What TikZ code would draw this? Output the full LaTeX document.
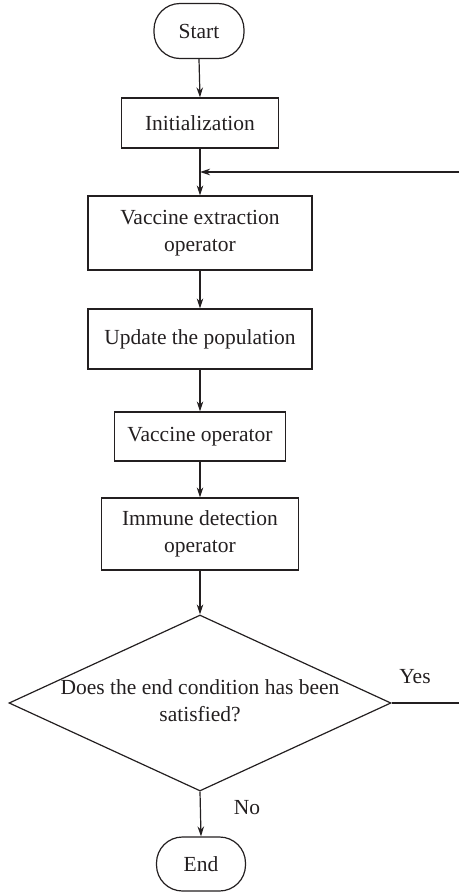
\documentclass[tikz,border=0pt]{standalone}
\usepackage{fontspec}
\setmainfont{Liberation Serif}
\usetikzlibrary{shapes.geometric,arrows.meta}
\definecolor{ink}{HTML}{231F20}
\begin{document}
\begin{tikzpicture}[x=1pt,y=-1pt,
  every node/.style={font=\fontsize{21.5}{27}\selectfont,text=ink},
  term/.style={draw=ink,line width=1.2pt,rounded corners=26pt,minimum width=90pt,minimum height=55pt,inner sep=0pt},
  proc/.style={draw=ink,line width=1.2pt,inner sep=0pt,align=center},
  dia/.style={draw=ink,line width=1.2pt,diamond,inner sep=0pt,minimum width=382pt,minimum height=176pt},
  conn/.style={draw=ink,line width=1.2pt,-{Stealth[length=10pt,width=6.5pt]}},
  plain/.style={draw=ink,line width=1.2pt}]
\useasboundingbox (0,0) rectangle (459,894);
\node[term] (start) at (199,31) {Start};
\node[proc,minimum width=157pt,minimum height=50pt] (init) at (200,123) {Initialization};
\node[proc,minimum width=224pt,minimum height=74pt] (vext) at (200,233) {Vaccine extraction\\operator};
\node[proc,minimum width=224pt,minimum height=60pt] (upd) at (200,339) {Update the population};
\node[proc,minimum width=171pt,minimum height=49pt] (vop) at (200,436.5) {Vaccine operator};
\node[proc,minimum width=197pt,minimum height=72pt] (imm) at (200,534) {Immune detection\\operator};
\node[dia] (cond) at (200,703) {};
\node[align=center] (condtext) at (200,701) {Does the end condition has been\\satisfied?};
\node[term,minimum width=89pt,minimum height=54pt] (end) at (201,864) {End};
\coordinate (join) at (200,172);
\coordinate (fbin) at (459,172);
\coordinate (yesout) at (459,703);
\node (yes) at (415,677) {Yes};
\node (no) at (247,808) {No};
\draw[conn] (start.south) -- (init.north);
\draw[conn] (init.south) -- (vext.north);
\draw[conn] (fbin) -- (join);
\draw[conn] (vext.south) -- (upd.north);
\draw[conn] (upd.south) -- (vop.north);
\draw[conn] (vop.south) -- (imm.north);
\draw[conn] (imm.south) -- (cond.north);
\draw[conn] (cond.south) -- (end.north);
\draw[plain] (cond.east) -- (yesout);
\end{tikzpicture}
\end{document}
